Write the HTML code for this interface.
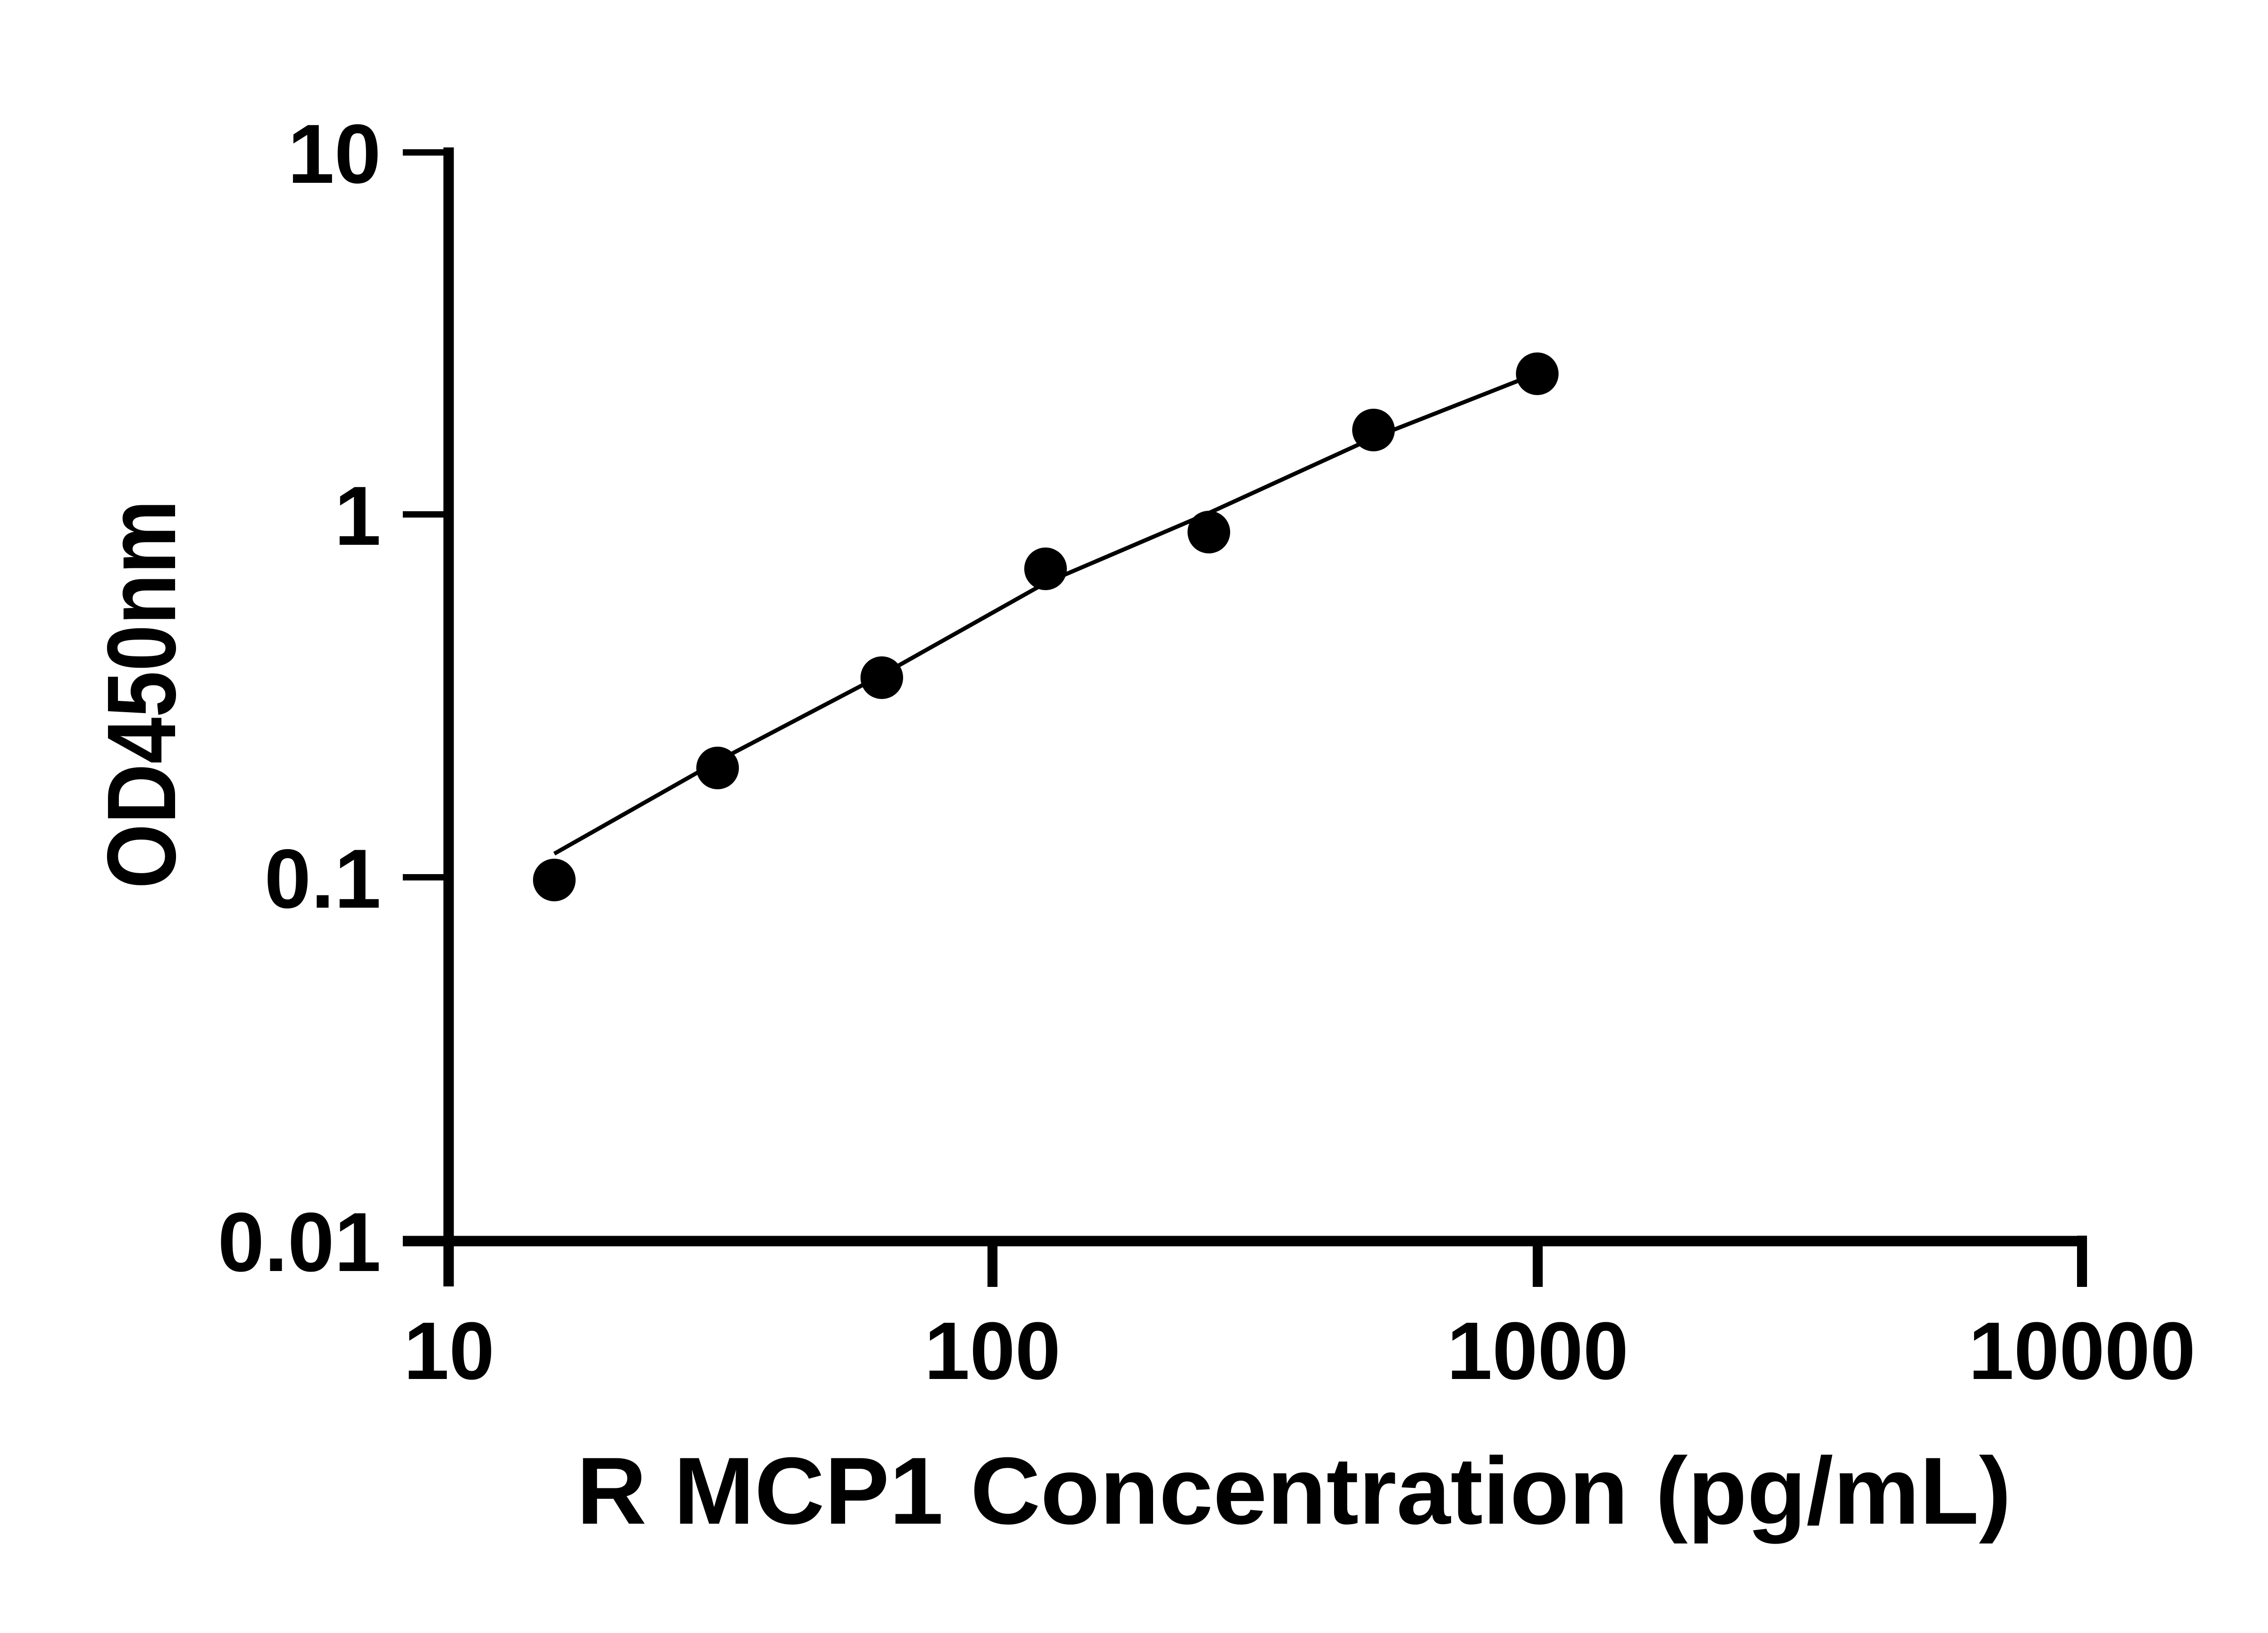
<!DOCTYPE html>
<html><head><meta charset="utf-8"><style>html,body{margin:0;padding:0;background:#fff;}svg{display:block}</style></head>
<body>
<svg width="5142" height="3600" viewBox="0 0 5142 3600" xmlns="http://www.w3.org/2000/svg">
<rect width="5142" height="3600" fill="#fff"/>
<g stroke="#000" fill="none">
<line x1="989" y1="325" x2="989" y2="2836" stroke-width="23"/>
<line x1="888" y1="336" x2="989" y2="336" stroke-width="14"/>
<line x1="888" y1="1134" x2="989" y2="1134" stroke-width="14"/>
<line x1="888" y1="1934" x2="989" y2="1934" stroke-width="14"/>
<line x1="888" y1="2736" x2="4600" y2="2736" stroke-width="23"/>
<line x1="4590" y1="2724" x2="4590" y2="2837" stroke-width="22"/>
<line x1="2188" y1="2736" x2="2188" y2="2837" stroke-width="22"/>
<line x1="3390" y1="2736" x2="3390" y2="2837" stroke-width="22"/>
<polyline stroke-width="9" points="1222,1882 1582,1678 1944,1488 2305,1285 2665,1131 3028,965 3389,823"/>
</g>
<g fill="#000">
<circle cx="1222" cy="1940" r="47"/>
<circle cx="1582" cy="1693" r="47"/>
<circle cx="1944" cy="1494" r="47"/>
<circle cx="2305" cy="1254" r="47"/>
<circle cx="2665" cy="1173" r="47"/>
<circle cx="3028" cy="948" r="47"/>
<circle cx="3389" cy="824" r="47"/>
</g>
<g font-family="Liberation Sans, sans-serif" font-weight="bold" fill="#000">
<g font-size="185" text-anchor="end">
<text x="840" y="403">10</text>
<text x="840" y="1201">1</text>
<text x="840" y="2001">0.1</text>
<text x="840" y="2802">0.01</text>
</g>
<g font-size="180" text-anchor="middle">
<text x="990" y="3040">10</text>
<text x="2188" y="3040">100</text>
<text x="3390" y="3040">1000</text>
<text x="4590" y="3040">10000</text>
</g>
<text x="1271" y="3359" font-size="210" textLength="3163" lengthAdjust="spacingAndGlyphs">R MCP1 Concentration (pg/mL)</text>
<text transform="translate(386,1959) rotate(-90)" x="0" y="0" font-size="215" textLength="857" lengthAdjust="spacingAndGlyphs">OD450nm</text>
</g>
</svg>
</body></html>
